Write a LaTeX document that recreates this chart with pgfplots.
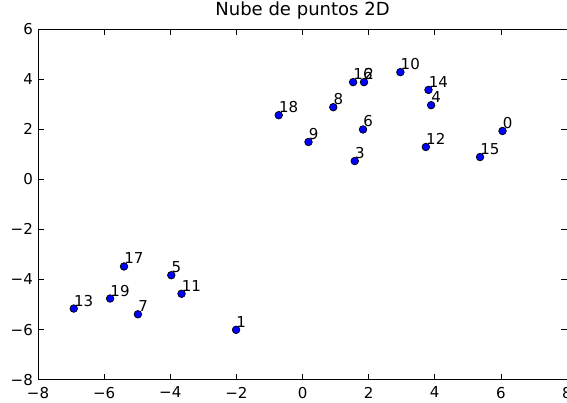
\documentclass[border=0pt]{standalone}
\usepackage{pgfplots}
\pgfplotsset{compat=1.18}
\usepackage{fontspec}
\setmainfont{DejaVu Sans}
\begin{document}
\fontsize{15pt}{18pt}\selectfont
\begin{tikzpicture}
\begin{axis}[
    scale only axis,
    width=528pt, height=350pt,
    xmin=-8, xmax=8, ymin=-8, ymax=6,
    xtick={-8,-6,...,8}, ytick={-8,-6,...,6},
    xticklabels={−8,−6,−4,−2,0,2,4,6,8},
    yticklabels={−8,−6,−4,−2,0,2,4,6},
    tick align=inside,
    major tick length=6pt,
    minor tick num=0,
    xtick pos=both, ytick pos=both,
    tick style={black, line width=0.6pt},
    axis line style={black, line width=1pt},
    title={Nube de puntos 2D},
    title style={at={(0.5,1)}, anchor=base, yshift=8pt, inner sep=0pt, font=\fontsize{18pt}{21pt}\selectfont},
    ticklabel style={font=\fontsize{15pt}{18pt}\selectfont},
    xticklabel style={yshift=-2pt},
    nodes near coords,
    point meta=explicit symbolic,
    every node near coord/.style={anchor=base west, inner sep=0pt, xshift=0pt, yshift=2.5pt, font=\fontsize{15pt}{18pt}\selectfont, black},
]
\addplot[only marks, mark=*, mark size=3.8pt, mark options={fill=blue, draw=black, line width=0.7pt}]
  table[meta=lab] {
x y lab
6.05 1.93 0
-2.01 -6.01 1
1.86 3.88 2
1.58 0.73 3
3.89 2.96 4
-3.97 -3.83 5
1.83 1.99 6
-4.98 -5.39 7
0.93 2.88 8
0.18 1.49 9
2.96 4.28 10
-3.66 -4.57 11
3.73 1.29 12
-6.92 -5.16 13
3.81 3.57 14
5.37 0.89 15
1.53 3.88 16
-5.40 -3.48 17
-0.72 2.56 18
-5.82 -4.76 19
};
\end{axis}
\pgfresetboundingbox
\path ([xshift=-38pt,yshift=-23pt]current axis.south west) rectangle ([yshift=29pt]current axis.north east);
\end{tikzpicture}
\end{document}
